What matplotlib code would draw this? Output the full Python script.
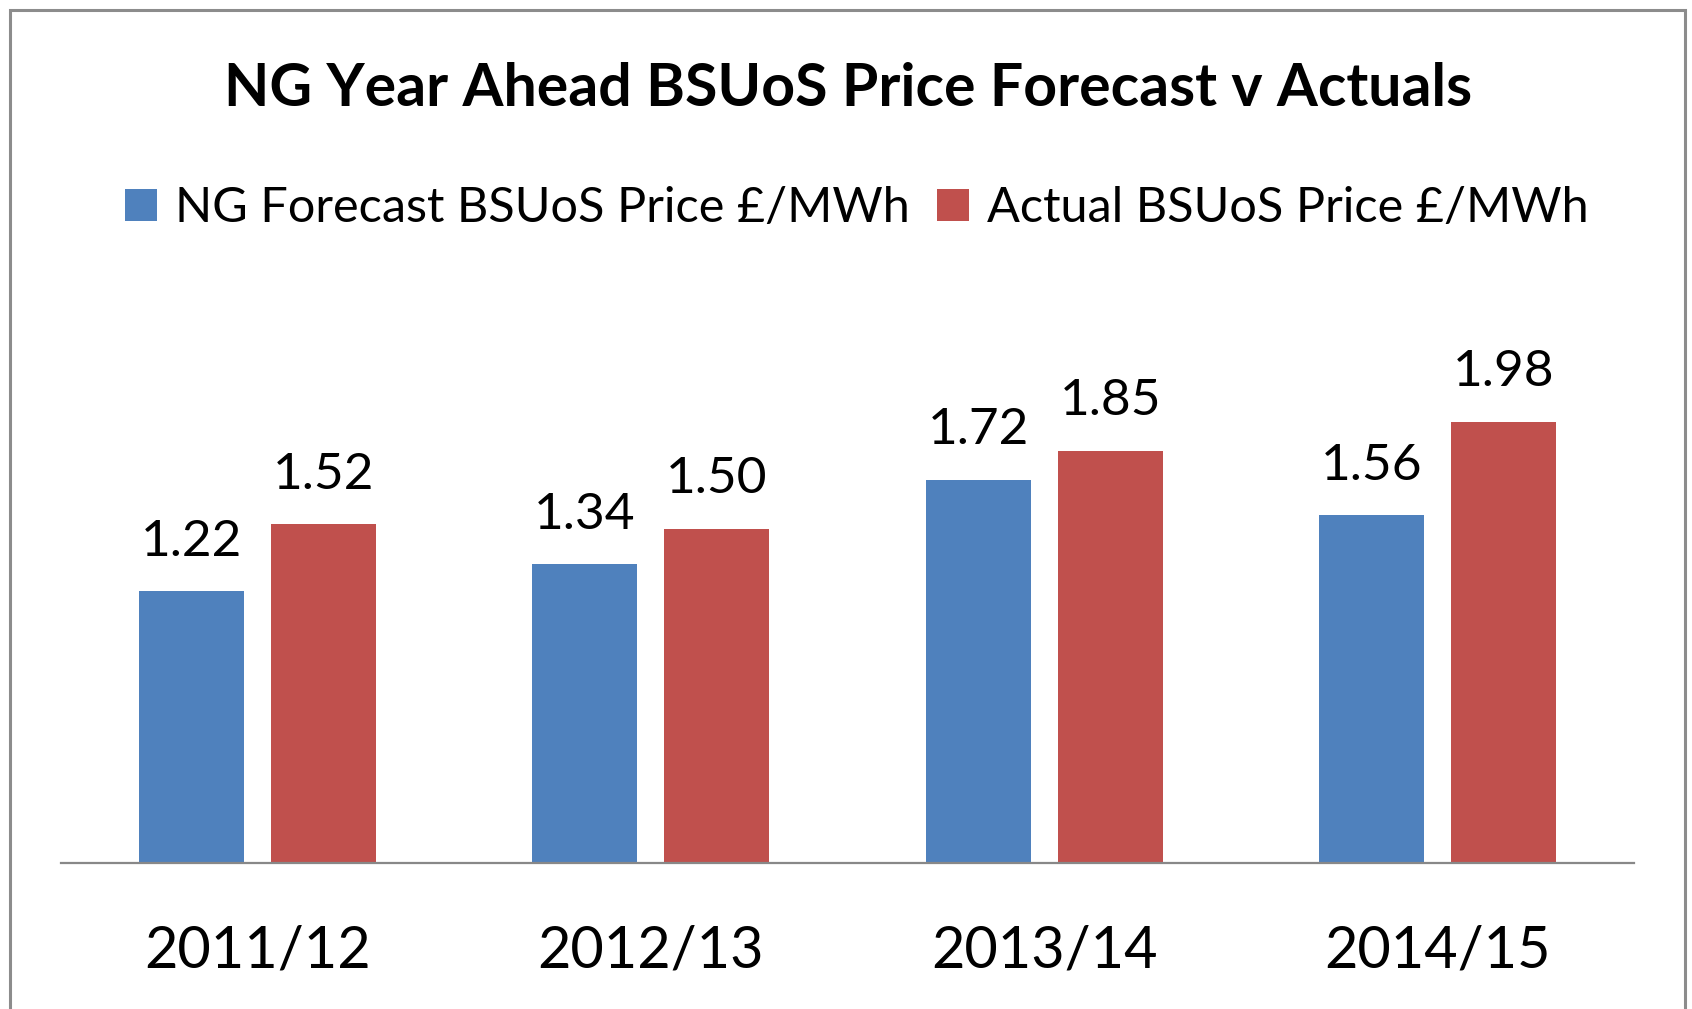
import matplotlib
matplotlib.use("Agg")
import matplotlib.pyplot as plt
from matplotlib.patches import Patch, Rectangle
import numpy as np

categories = ["2011/12", "2012/13", "2013/14", "2014/15"]
forecast = [1.22, 1.34, 1.72, 1.56]
actual = [1.52, 1.50, 1.85, 1.98]
series_names = ["NG Forecast BSUoS Price £/MWh", "Actual BSUoS Price £/MWh"]
title = "NG Year Ahead BSUoS Price Forecast v Actuals"

BLUE = "#4F81BD"
RED = "#C0504D"
FONT = "Lato"

W, H = 1692, 1009
fig = plt.figure(figsize=(W / 100, H / 100), dpi=100)
fig.patch.set_facecolor("white")

# outer frame
fig.patches.append(Rectangle((10 / W, -0.05), (1685 - 10) / W, 1 - 10 / H + 0.05,
                             transform=fig.transFigure, fill=False,
                             edgecolor="#8c8c8c", linewidth=2.2, clip_on=False))

ax = fig.add_axes([61 / W, (H - 863) / H, 1573 / W, 557 / H])
x = np.arange(len(categories))
bw = 0.267
off = 0.168
b1 = ax.bar(x - off, forecast, bw, color=BLUE, label=series_names[0])
b2 = ax.bar(x + off, actual, bw, color=RED, label=series_names[1])

for bars, vals in ((b1, forecast), (b2, actual)):
    for rect, v in zip(bars, vals):
        ax.annotate(f"{v:.2f}", (rect.get_x() + rect.get_width() / 2, v),
                    xytext=(0, 25.5), textcoords="offset points",
                    ha="center", va="baseline", fontsize=37, family=FONT)

ax.set_xlim(-0.5, 3.5)
ax.set_ylim(0, 2.5)
ax.set_yticks([])
ax.set_xticks(x)
ax.set_xticklabels(categories, fontsize=41.5, family=FONT)
ax.tick_params(axis="x", length=0, pad=44)
for s in ("top", "left", "right"):
    ax.spines[s].set_visible(False)
ax.spines["bottom"].set_color("#888888")
ax.spines["bottom"].set_linewidth(1.6)
ax.set_facecolor("none")

fig.text(848 / W, 1 - 89 / H, title, ha="center", va="center",
         fontsize=42.5, fontweight="bold", family=FONT)

handles = [Patch(facecolor=BLUE, edgecolor="none"), Patch(facecolor=RED, edgecolor="none")]
fig.legend(handles, series_names, loc="center", bbox_to_anchor=(857 / W, 1 - 208 / H),
           ncol=2, frameon=False, prop={"family": FONT, "size": 35},
           handlelength=0.66, handleheight=0.66, handletextpad=0.38, columnspacing=0.55)

fig.savefig("out.png", dpi=100)
